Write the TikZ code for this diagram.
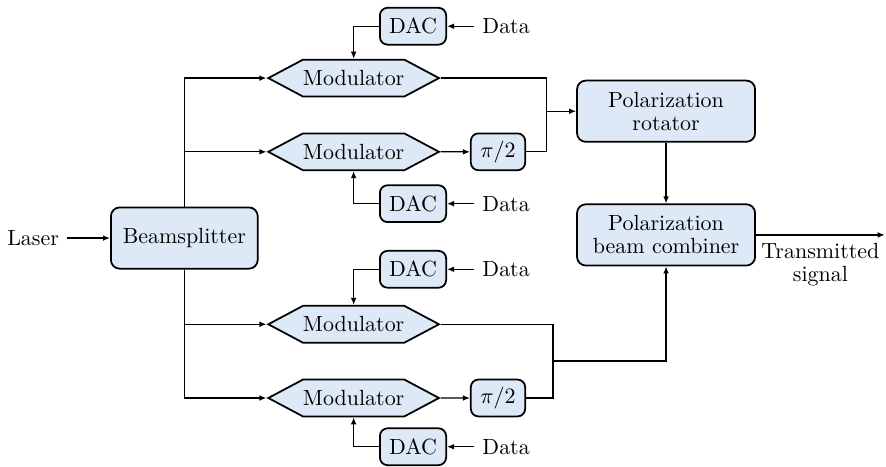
\documentclass[tikz,border=0pt]{standalone}
\usetikzlibrary{arrows.meta,shapes.symbols}

\definecolor{boxfill}{RGB}{221,233,246}

\tikzset{
  >={Latex[length=3.2pt,width=2.6pt]},
  wire/.style={semithick},
  block/.style={draw, thick, fill=boxfill, rounded corners=4pt, align=center,
    inner sep=2pt, font=\linespread{0.87}\selectfont},
  bigblock/.style={block, minimum width=2.85cm, minimum height=0.98cm},
  smallblock/.style={block, rounded corners=3.5pt, minimum height=0.59cm},
  modulator/.style={draw, thick, fill=boxfill, shape=signal,
    signal to=east and west, signal pointer angle=56,
    inner xsep=0pt, inner ysep=0pt, minimum height=0.59cm},
}

\begin{document}
\begin{tikzpicture}[every path/.style={wire}]
  \useasboundingbox (0,0) rectangle (14.18,7.46);

  % laser into the splitter
  \node[block, minimum width=2.35cm, minimum height=0.98cm] (bs) at (2.95,3.65) {Beamsplitter};
  \node (laser) at (0.53,3.65) {Laser};
  \draw[->] (laser) -- (bs);

  % four modulator branches
  \foreach \n/\y in {1/6.21,2/5.03,3/2.27,4/1.09}
    \node[modulator] (mod\n) at (5.66,\y) {Modulator};
  \draw[->] (bs.north) |- (mod1.west);
  \draw[->] (bs.north) |- (mod2.west);
  \draw[->] (bs.south) |- (mod3.west);
  \draw[->] (bs.south) |- (mod4.west);

  % DACs fed with data
  \foreach \n/\y/\side in {1/7.04/north,2/4.20/south,3/3.15/north,4/0.31/south} {
    \node[smallblock, minimum width=1.06cm] (dac\n) at (6.61,\y) {DAC};
    \node (data\n) at (8.10,\y) {Data};
    \draw[->] (data\n) -- (dac\n);
    \draw[->] (dac\n.west) -| (mod\n.\side);
  }

  % phase shift on the second arm of each pair
  \node[smallblock, minimum width=0.87cm] (ps1) at (7.97,5.03) {$\pi/2$};
  \node[smallblock, minimum width=0.87cm] (ps2) at (7.97,1.09) {$\pi/2$};
  \draw[->] (mod2) -- (ps1);
  \draw[->] (mod4) -- (ps2);

  % polarization stage
  \node[bigblock] (rot) at (10.66,5.68) {Polarization\\rotator};
  \node[bigblock] (pbc) at (10.66,3.70) {Polarization\\beam combiner};
  \coordinate (join1) at (8.75,5.68);
  \coordinate (join2) at (8.85,1.68);
  \draw (mod1.east) -| (join1) |- (ps1.east);
  \draw[->] (join1) -- (rot);
  \draw (mod3.east) -| (join2) |- (ps2.east);
  \draw[->] (join2) -| (pbc.south);
  \draw[->] (rot) -- (pbc);

  % output
  \coordinate (out) at (14.16,3.70);
  \draw[->] (pbc) -- (out)
    node[midway, below, align=center, font=\linespread{0.87}\selectfont] {Transmitted\\signal};
\end{tikzpicture}
\end{document}
